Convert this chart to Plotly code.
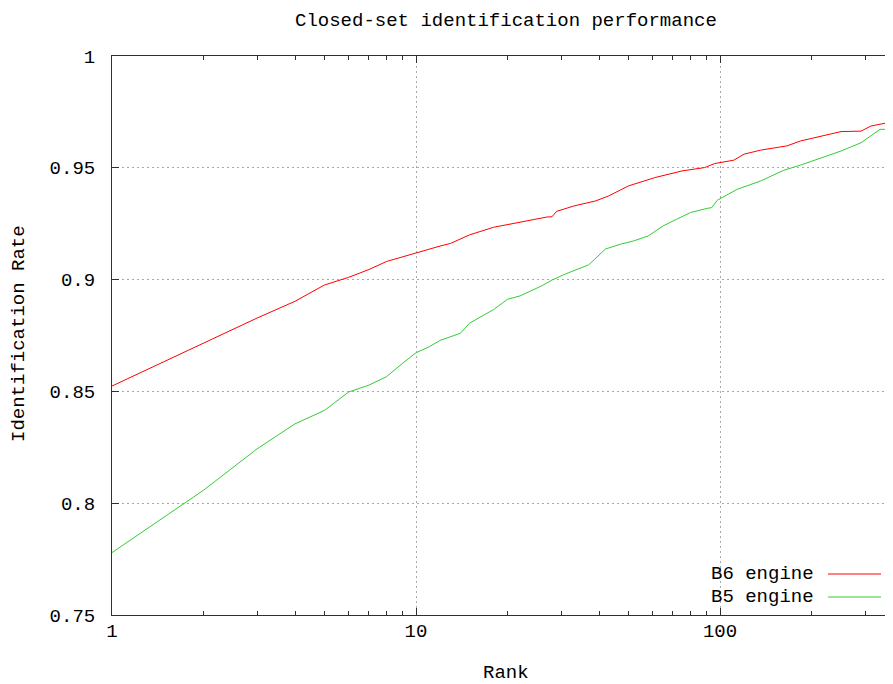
import plotly.graph_objects as go

title_text = "Closed-set identification performance"
x_label = "Rank"
y_label = "Identification Rate"

b6_name = "B6 engine"
b6_rank = [1, 2, 3, 4, 5, 6, 7, 8, 9, 10, 12, 13, 15, 18, 22, 27, 28, 29, 33, 39, 43, 50,
           61, 75, 89, 96, 111, 120, 136, 166, 184, 215, 250, 291, 314, 370]
b6_rate = [0.8524, 0.8718, 0.8828, 0.8903, 0.8976, 0.9010, 0.9045, 0.9081, 0.9102, 0.9120,
           0.9150, 0.9162, 0.9200, 0.9234, 0.9258, 0.9280, 0.9281, 0.9305, 0.9329, 0.9352,
           0.9374, 0.9419, 0.9456, 0.9486, 0.9501, 0.9519, 0.9534, 0.9561, 0.9579, 0.9598,
           0.9620, 0.9642, 0.9662, 0.9664, 0.9687, 0.9706]

b5_name = "B5 engine"
b5_rank = [1, 2, 3, 4, 5, 6, 7, 8, 9, 10, 11, 12, 14, 15, 18, 20, 22, 26, 28, 31, 37, 42,
           47, 52, 58, 65, 72, 80, 91, 94, 98, 114, 136, 162, 184, 215, 250, 291, 336, 370]
b5_rate = [0.7779, 0.8058, 0.8243, 0.8355, 0.8415, 0.8497, 0.8528, 0.8566, 0.8624, 0.8673,
           0.8698, 0.8728, 0.8760, 0.8805, 0.8866, 0.8912, 0.8927, 0.8973, 0.8998, 0.9025,
           0.9066, 0.9137, 0.9158, 0.9173, 0.9195, 0.9240, 0.9270, 0.9300, 0.9319, 0.9322,
           0.9355, 0.9404, 0.9441, 0.9489, 0.9512, 0.9545, 0.9575, 0.9612, 0.9672, 0.9672]

x_tickvals = [1, 10, 100]
x_ticktext = ["1", "10", "100"]
y_tickvals = [0.75, 0.8, 0.85, 0.9, 0.95, 1.0]
y_ticktext = ["0.75", "0.8", "0.85", "0.9", "0.95", "1"]

RED = "#ff0000"
GREEN = "#33cc33"
FONT = "Liberation Mono"
FS = 19
AXC = "#303030"
GRID = "#a8a8a8"

W, H = 893, 684
OFF = 7                      # page offset of the figure inside the browser window
L, R, T = 111 - OFF, 0, 55 - OFF
B = H - (614 - OFF)
DECADE_PX = 304

plot_w = W - L - R
plot_h = H - T - B

def px_to_paper_x(px):
    return (px - OFF - L) / plot_w
def px_to_paper_y(py):
    return (H - B - (py - OFF)) / plot_h

fig = go.Figure()
fig.add_trace(go.Scatter(x=b6_rank, y=b6_rate, mode="lines", name=b6_name,
                         line=dict(color=RED, width=1), showlegend=False))
fig.add_trace(go.Scatter(x=b5_rank, y=b5_rate, mode="lines", name=b5_name,
                         line=dict(color=GREEN, width=1), showlegend=False))

# legend drawn gnuplot-style (text then line sample)
for name, color, py in [(b6_name, RED, 573), (b5_name, GREEN, 596)]:
    fig.add_annotation(xref="paper", yref="paper", x=px_to_paper_x(815), y=px_to_paper_y(py),
                       text=name, showarrow=False, xanchor="right", yanchor="middle",
                       font=dict(family=FONT, size=FS, color="#000000"))
    fig.add_shape(type="line", xref="paper", yref="paper",
                  x0=px_to_paper_x(827), x1=px_to_paper_x(880),
                  y0=px_to_paper_y(py), y1=px_to_paper_y(py),
                  line=dict(color=color, width=1))

# axis titles placed like gnuplot
fig.add_annotation(xref="paper", yref="paper", x=px_to_paper_x(505), y=px_to_paper_y(672),
                   text=x_label, showarrow=False, xanchor="center", yanchor="middle",
                   font=dict(family=FONT, size=FS, color="#000000"))
fig.add_annotation(xref="paper", yref="paper", x=px_to_paper_x(18), y=px_to_paper_y(333),
                   text=y_label, showarrow=False, xanchor="center", yanchor="middle",
                   textangle=-90, font=dict(family=FONT, size=FS, color="#000000"))
fig.add_annotation(xref="paper", yref="paper", x=px_to_paper_x(505), y=px_to_paper_y(20),
                   text=title_text, showarrow=False, xanchor="center", yanchor="middle",
                   font=dict(family=FONT, size=FS, color="#000000"))

fig.update_layout(
    width=W, height=H,
    margin=dict(l=L, r=R, t=T, b=B, autoexpand=False),
    paper_bgcolor="white", plot_bgcolor="white",
    font=dict(family=FONT, size=FS, color="#000000"),
)

fig.update_xaxes(
    type="log", range=[0, plot_w / DECADE_PX],
    tickmode="array", tickvals=x_tickvals, ticktext=x_ticktext,
    ticks="inside", ticklen=7, tickcolor=AXC, tickwidth=1,
    showline=True, linecolor=AXC, linewidth=1, mirror="ticks",
    showgrid=True, gridcolor=GRID, griddash="2px,3px", gridwidth=1,
    minor=dict(ticks="inside", ticklen=4, tickcolor=AXC, dtick="D1", showgrid=False),
    zeroline=False, automargin=False, ticklabelstandoff=-2,
    tickfont=dict(family=FONT, size=FS),
)
fig.update_yaxes(
    range=[0.75, 1.0],
    tickmode="array", tickvals=y_tickvals, ticktext=y_ticktext,
    ticks="inside", ticklen=7, tickcolor=AXC, tickwidth=1,
    showline=True, linecolor=AXC, linewidth=1, mirror=False,
    showgrid=True, gridcolor=GRID, griddash="2px,3px", gridwidth=1,
    zeroline=False, ticklabelstandoff=12, automargin=False,
    tickfont=dict(family=FONT, size=FS),
)

fig.write_html("out.html")
